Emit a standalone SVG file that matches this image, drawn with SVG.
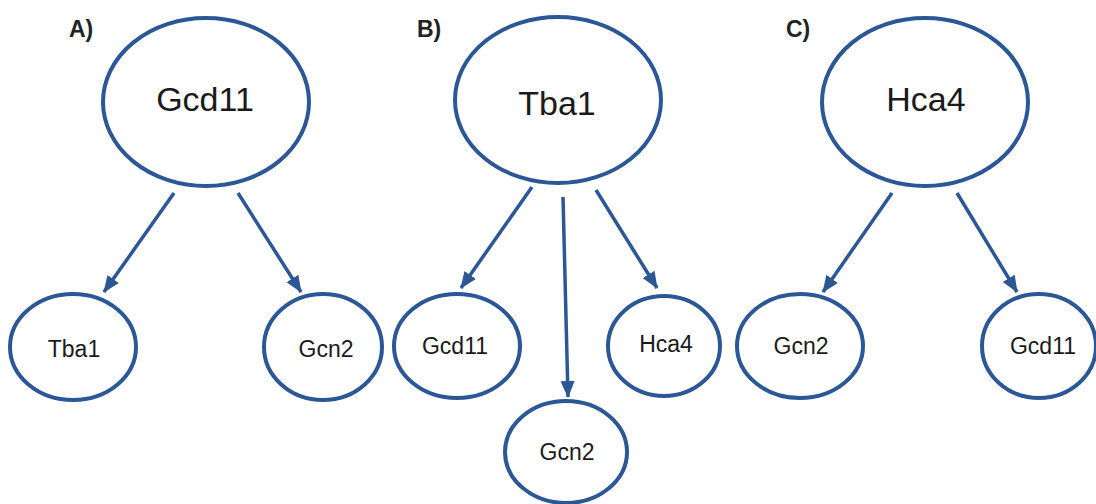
<svg xmlns="http://www.w3.org/2000/svg" width="1096" height="504" viewBox="0 0 1096 504">
<style>
.node ellipse{fill:#fff;stroke:#2b5797;stroke-width:4}
.big{font-family:"Liberation Sans",Arial,sans-serif;font-size:34px;fill:#1a1a1a;text-anchor:middle;dominant-baseline:central}
.small{font-family:"Liberation Sans",Arial,sans-serif;font-size:23px;fill:#1a1a1a;text-anchor:middle;dominant-baseline:central}
.lbl{font-family:"Liberation Sans",Arial,sans-serif;font-size:23px;font-weight:bold;fill:#222}
.edges line{stroke:#2b5797;stroke-width:3.5;marker-end:url(#ah)}
</style>
<defs>
<marker id="ah" markerUnits="userSpaceOnUse" markerWidth="18" markerHeight="18" viewBox="0 0 18 18" refX="16" refY="9" orient="auto">
<path d="M0,2 L17,9 L0,16 Z" fill="#2b5797"/>
</marker>
</defs>
<rect width="1096" height="504" fill="#fff"/>
<text class="lbl" x="69" y="37">A)</text>
<text class="lbl" x="417" y="37">B)</text>
<text class="lbl" x="786" y="37">C)</text>
<g class="edges" id="connectors">
<line x1="174" y1="193" x2="104" y2="292"/>
<line x1="238" y1="193" x2="301" y2="292"/>
<line x1="532" y1="187" x2="461" y2="288"/>
<line x1="563" y1="197" x2="568" y2="397"/>
<line x1="596" y1="190" x2="657" y2="288"/>
<line x1="892" y1="193" x2="823" y2="292"/>
<line x1="957" y1="193" x2="1017" y2="292"/>
</g>
<g class="node" id="A-Gcd11"><ellipse cx="206" cy="102" rx="103" ry="84"/><text class="big" x="205" y="99">Gcd11</text></g>
<g class="node" id="A-Tba1"><ellipse cx="73" cy="347" rx="63" ry="53"/><text class="small" x="74" y="349">Tba1</text></g>
<g class="node" id="A-Gcn2"><ellipse cx="323" cy="347" rx="59" ry="53"/><text class="small" x="326" y="349">Gcn2</text></g>
<g class="node" id="B-Tba1"><ellipse cx="558" cy="100" rx="103" ry="83"/><text class="big" x="557" y="103">Tba1</text></g>
<g class="node" id="B-Gcd11"><ellipse cx="457" cy="346" rx="63" ry="52"/><text class="small" x="455" y="346">Gcd11</text></g>
<g class="node" id="B-Hca4"><ellipse cx="664" cy="346" rx="56" ry="50"/><text class="small" x="666" y="344">Hca4</text></g>
<g class="node" id="B-Gcn2"><ellipse cx="566" cy="452" rx="61" ry="51"/><text class="small" x="567" y="452">Gcn2</text></g>
<g class="node" id="C-Hca4"><ellipse cx="925" cy="102" rx="103" ry="84"/><text class="big" x="926" y="99">Hca4</text></g>
<g class="node" id="C-Gcn2"><ellipse cx="800" cy="346" rx="63" ry="52"/><text class="small" x="801" y="346">Gcn2</text></g>
<g class="node" id="C-Gcd11"><ellipse cx="1039" cy="346" rx="57" ry="52"/><text class="small" x="1043" y="346">Gcd11</text></g>
</svg>
